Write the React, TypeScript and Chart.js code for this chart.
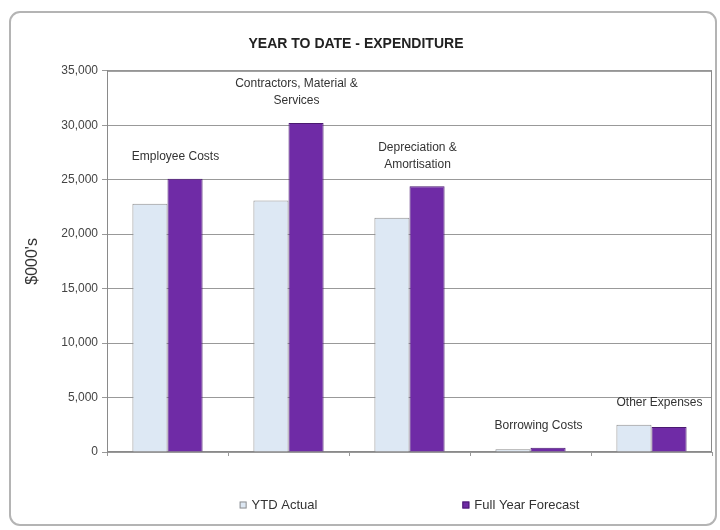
import React, { useEffect, useRef } from 'react';
import { Chart, registerables } from 'chart.js';

Chart.register(...registerables);

const categories = [
  'Employee Costs',
  'Contractors, Material & Services',
  'Depreciation & Amortisation',
  'Borrowing Costs',
  'Other Expenses',
];
const categoryLabelLines = [
  ['Employee Costs'],
  ['Contractors, Material &', 'Services'],
  ['Depreciation &', 'Amortisation'],
  ['Borrowing Costs'],
  ['Other Expenses'],
];
const ytdActual = [22800, 23100, 21500, 250, 2500];
const fullYearForecast = [25100, 30200, 24400, 400, 2300];
const seriesNames = ['YTD Actual', 'Full Year Forecast'];
const chartTitle = 'YEAR TO DATE - EXPENDITURE';
const yAxisTitle = "$000's";
const yMax = 35000;
const yStep = 5000;

const FONT = '"Liberation Sans", Arial, sans-serif';
const LIGHT = '#dde8f4';
const LIGHT_BORDER = '#8f8f8f';
const PURPLE = '#6f2ba6';
const PURPLE_BORDER = '#4a1a70';

const decorPlugin = {
  id: 'decor',
  beforeDraw(chart: any) {
    const ctx = chart.ctx;
    ctx.save();
    ctx.fillStyle = '#ffffff';
    ctx.fillRect(0, 0, chart.width, chart.height);
    ctx.strokeStyle = '#b4b4b4';
    ctx.lineWidth = 2;
    ctx.beginPath();
    ctx.roundRect(10, 12, 706, 513, 10);
    ctx.stroke();
    ctx.restore();
  },
  beforeDatasetsDraw(chart: any) {
    const ctx = chart.ctx;
    const { left, top, right, bottom } = chart.chartArea;
    ctx.save();
    ctx.strokeStyle = '#8a8a8a';
    ctx.lineWidth = 1;
    ctx.strokeRect(left + 0.5, top + 0.5, right - left - 1, bottom - top - 1);
    ctx.restore();
  },
  afterDatasetsDraw(chart: any) {
    const ctx = chart.ctx;
    const xs = chart.scales.x;
    const ys = chart.scales.y;
    ctx.save();
    ctx.font = `12px ${FONT}`;
    ctx.fillStyle = '#333';
    ctx.textAlign = 'center';
    ctx.textBaseline = 'middle';
    categoryLabelLines.forEach((lines, i) => {
      const v = Math.max(ytdActual[i], fullYearForecast[i]);
      const cx = xs.getPixelForValue(i) + 8;
      const baseY = ys.getPixelForValue(v) - 22;
      lines.forEach((ln, j) => {
        ctx.fillText(ln, cx, baseY - (lines.length - 1 - j) * 17);
      });
    });

    // legend
    const { left, right } = chart.chartArea;
    const center = (left + right) / 2;
    ctx.font = `13px ${FONT}`;
    const gap = 145;
    const box = 7;
    const items = seriesNames.map((n) => box + 5 + ctx.measureText(n).width);
    const total = items[0] + gap + items[1];
    let x = center - total / 2;
    const ly = 505;
    const fills = [LIGHT, PURPLE];
    const strokes = [LIGHT_BORDER, PURPLE_BORDER];
    ctx.textAlign = 'left';
    seriesNames.forEach((n, i) => {
      ctx.fillStyle = fills[i];
      ctx.fillRect(x, ly - box / 2, box, box);
      ctx.strokeStyle = strokes[i];
      ctx.lineWidth = 1;
      ctx.strokeRect(x + 0.5, ly - box / 2 + 0.5, box - 1, box - 1);
      ctx.fillStyle = '#333';
      ctx.fillText(n, x + box + 5, ly);
      x += items[i] + gap;
    });
    ctx.restore();
  },
};

export default function App() {
  const ref = useRef<HTMLCanvasElement | null>(null);
  useEffect(() => {
    if (!ref.current) return;
    const chart = new Chart(ref.current, {
      type: 'bar',
      data: {
        labels: categories,
        datasets: [
          {
            label: seriesNames[0],
            data: ytdActual,
            backgroundColor: LIGHT,
            borderColor: LIGHT_BORDER,
            borderWidth: 1,
          },
          {
            label: seriesNames[1],
            data: fullYearForecast,
            backgroundColor: PURPLE,
            borderColor: PURPLE_BORDER,
            borderWidth: 1,
          },
        ],
      },
      options: {
        animation: false,
        responsive: false,
        maintainAspectRatio: false,
        layout: { padding: { left: 0, right: 8, top: 0, bottom: 0 } },
        datasets: { bar: { categoryPercentage: 0.58, barPercentage: 1.0 } },
        plugins: {
          legend: { display: false },
          tooltip: { enabled: false },
          title: {
            display: true,
            text: chartTitle,
            color: '#222',
            font: { family: FONT, size: 14, weight: 'bold' },
            padding: { top: 36, bottom: 18 },
          },
        },
        scales: {
          x: {
            ticks: { display: false },
            grid: { drawOnChartArea: false, offset: true, tickLength: 4, color: '#999' },
            border: { display: false },
            afterFit: (s: any) => {
              s.height = 78;
            },
          },
          y: {
            min: 0,
            max: yMax,
            ticks: {
              stepSize: yStep,
              color: '#444',
              font: { family: FONT, size: 12 },
              padding: 4,
              callback: (v: any) => Number(v).toLocaleString('en-US'),
            },
            grid: { color: '#999', tickLength: 5, lineWidth: 1 },
            border: { display: true, color: '#8a8a8a' },
            title: {
              display: true,
              text: yAxisTitle,
              color: '#333',
              font: { family: FONT, size: 16 },
              padding: { top: 23, bottom: 0 },
            },
            afterFit: (s: any) => {
              s.width = 107;
            },
          },
        },
      },
      plugins: [decorPlugin],
    });
    return () => chart.destroy();
  }, []);

  return (
    <div style={{ position: 'fixed', left: 0, top: 0, width: 720, height: 530, background: '#fff' }}>
      <canvas ref={ref} width={720} height={530} style={{ width: 720, height: 530, display: 'block' }} />
    </div>
  );
}
